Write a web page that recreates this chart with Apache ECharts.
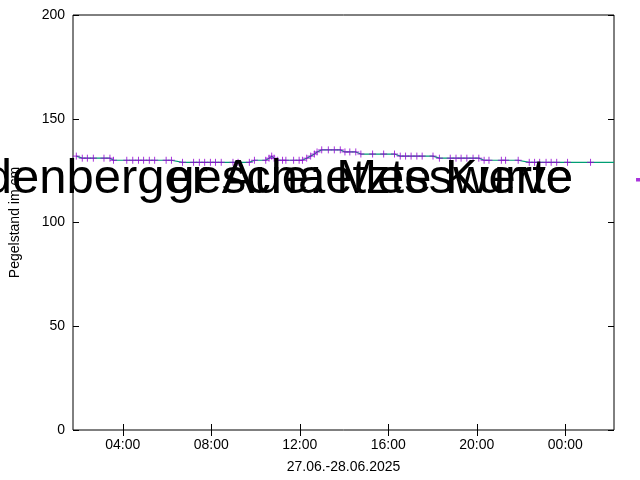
<!DOCTYPE html>
<html>
<head>
<meta charset="UTF-8">
<script src="https://cdn.jsdelivr.net/npm/echarts@6/dist/echarts.min.js"></script>
<style>body{margin:0}#c{width:640px;height:480px}</style>
</head>
<body>
<div id="c"></div>
<script>
// Stunden seit 27.06. 00:00
var messZeit = [1.90,2.17,2.40,2.67,3.15,3.42,3.58,4.18,4.45,4.71,4.94,5.20,5.44,5.96,6.20,6.70,7.20,7.46,7.70,7.96,8.19,8.45,8.98,9.21,9.72,9.95,10.46,10.61,10.73,10.84,11.00,11.22,11.37,11.72,11.97,12.12,12.31,12.49,12.66,12.78,12.99,13.29,13.56,13.83,14.04,14.26,14.53,14.76,15.29,15.79,16.28,16.54,16.78,17.03,17.29,17.53,18.02,18.31,18.80,19.06,19.29,19.55,19.83,20.09,20.33,20.55,21.11,21.30,21.87,22.37,22.61,22.84,23.13,23.36,23.61,24.10,25.14];
var messWert = [132,131,131,131,131,131,130,130,130,130,130,130,130,130,130,129,129,129,129,129,129,129,129,129,129,130,130,131,132,131,130,130,130,130,130,130,131,132,133,134,135,135,135,135,134,134,134,133,133,133,133,132,132,132,132,132,132,131,131,131,131,131,131,131,130,130,130,130,130,129,129,129,129,129,129,129,129];
var kurveEnde = [26.2, 129];
var xTicks = [4, 8, 12, 16, 20, 24];

var punkte = [];
for (var i = 0; i < messZeit.length; i++) punkte.push([messZeit[i], messWert[i]]);
var kurve = punkte.concat([kurveEnde]);

var font = 'Liberation Sans';
function xAchse(pos, labels) {
    return {
        type: 'value', position: pos, min: 1.75, max: 26.2,
        axisLine: {show: false},
        splitLine: {show: false},
        axisTick: {inside: true, length: 6, lineStyle: {color: '#000'}, customValues: xTicks},
        axisLabel: {show: labels, color: '#000', fontFamily: font, fontSize: 14, customValues: xTicks,
            formatter: function (v) { var h = Math.round(v) % 24; return (h < 10 ? '0' : '') + h + ':00'; }}
    };
}
function yAchse(pos, labels) {
    return {
        type: 'value', position: pos, min: 0, max: 200, interval: 50,
        axisLine: {show: false},
        splitLine: {show: false},
        axisTick: {inside: true, length: 6, lineStyle: {color: '#000'}},
        axisLabel: {show: labels, color: '#000', fontFamily: font, fontSize: 14}
    };
}
var xa = xAchse('bottom', true);
xa.name = '27.06.-28.06.2025'; xa.nameLocation = 'middle'; xa.nameGap = 30;
xa.nameTextStyle = {color: '#000', fontFamily: font, fontSize: 14};
var ya = yAchse('left', true);
ya.name = 'Pegelstand im cm'; ya.nameLocation = 'middle'; ya.nameGap = 51;
ya.nameTextStyle = {color: '#000', fontFamily: font, fontSize: 14};

var chart = echarts.init(document.getElementById('c'));
chart.setOption({
    animation: false,
    grid: {left: 70, right: 26, top: 15, bottom: 50, show: true, borderColor: '#000', borderWidth: 1, backgroundColor: 'transparent'},
    legend: {
        orient: 'vertical', right: 42, top: 14, align: 'right', itemGap: 4,
        itemWidth: 36, itemHeight: 10,
        textStyle: {color: '#000', fontFamily: font, fontSize: 14},
        data: [
            {name: 'Pegel Rodenberg / Rodenberger Aue: Messwerte', icon: 'path://M13,5L23,5M18,0L18,10', itemStyle: {color: 'none', borderColor: '#9400d3', borderWidth: 1}},
            {name: 'geschaetzte Kurve', icon: 'path://M0,5L36,5', itemStyle: {color: 'none', borderColor: '#009e73', borderWidth: 1.2}}
        ]
    },
    xAxis: [xa, xAchse('top', false)],
    yAxis: [ya, yAchse('right', false)],
    series: [
        {name: 'geschaetzte Kurve', type: 'line', data: kurve, showSymbol: false, z: 2,
            lineStyle: {color: '#009e73', width: 1.2}, itemStyle: {color: '#009e73'}},
        {name: 'Pegel Rodenberg / Rodenberger Aue: Messwerte', type: 'scatter', data: punkte, z: 3,
            symbol: 'path://M0,5L10,5M5,0L5,10', symbolSize: 7,
            itemStyle: {color: 'none', borderColor: '#9400d3', borderWidth: 1}}
    ]
});
</script>
</body>
</html>
